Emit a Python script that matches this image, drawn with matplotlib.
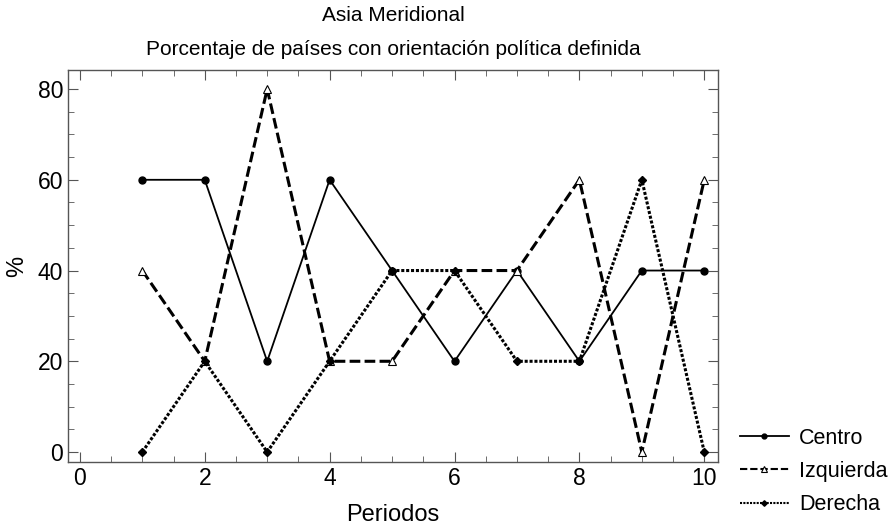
import matplotlib
matplotlib.use('Agg')
import matplotlib.pyplot as plt
from matplotlib.ticker import MultipleLocator

plt.rcParams['font.family'] = ['Liberation Sans', 'DejaVu Sans']

# datos
periodos = [1, 2, 3, 4, 5, 6, 7, 8, 9, 10]
centro = [60, 60, 20, 60, 40, 20, 40, 20, 40, 40]
izquierda = [40, 20, 80, 20, 20, 40, 40, 60, 0, 60]
derecha = [0, 20, 0, 20, 40, 40, 20, 20, 60, 0]

fig = plt.figure(figsize=(8.93, 5.27), dpi=100)
ax = fig.add_axes([68 / 893, 1 - 462 / 527, 650 / 893, 392 / 527])

ax.plot(periodos, centro, color='black', lw=1.3, ls='-', marker='o',
        ms=5, label='Centro')
ax.plot(periodos, izquierda, color='black', lw=2.2, ls=(0, (3.5, 1.4)),
        marker='^', ms=5.5, mfc='white', mec='black', mew=0.8,
        label='Izquierda')
ax.plot(periodos, derecha, color='black', lw=2.2, ls=(0, (1, 0.6)),
        marker='D', ms=4, label='Derecha')

ax.set_xlim(-0.19, 10.22)
ax.set_ylim(-2.2, 84.2)
ax.xaxis.set_major_locator(MultipleLocator(2))
ax.xaxis.set_minor_locator(MultipleLocator(0.5))
ax.yaxis.set_major_locator(MultipleLocator(20))
ax.yaxis.set_minor_locator(MultipleLocator(5))

gris = '#555555'
for s in ax.spines.values():
    s.set_color(gris)
    s.set_linewidth(1.0)
ax.tick_params(which='both', direction='in', top=True, right=True,
               color=gris, labelsize=16.5)
ax.tick_params(which='major', length=7)
ax.tick_params(which='minor', length=4)

ax.set_xlabel('Periodos', fontsize=17, labelpad=10)
ax.set_ylabel('%', fontsize=17, labelpad=7)
ax.set_title('Asia Meridional\nPorcentaje de países con orientación política definida',
             fontsize=15, linespacing=2.0, pad=11)

leg = fig.legend(loc='lower left', bbox_to_anchor=(731 / 893, 0.006),
                 frameon=False, fontsize=15.5, handlelength=2.3,
                 handletextpad=0.45, labelspacing=0.57, borderaxespad=0,
                 markerscale=0.7)
# lineas de la leyenda un poco mas finas, como en el original
for h in leg.legend_handles[1:]:
    h.set_linewidth(1.5)

fig.savefig('out.png', dpi=100)
